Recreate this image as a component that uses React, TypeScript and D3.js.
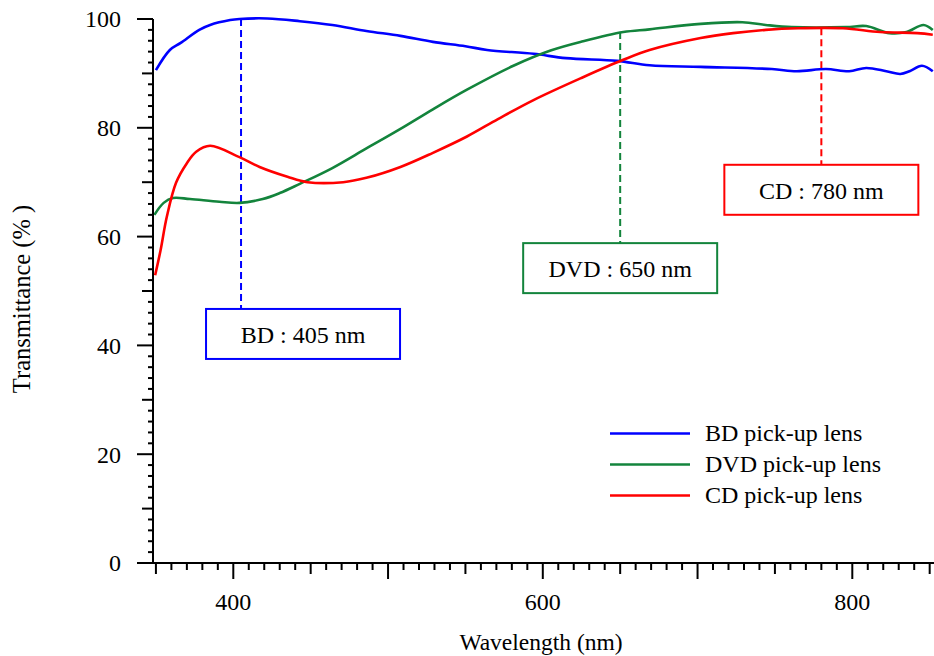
import React, { useEffect, useRef } from 'react';
import * as d3 from 'd3';

// wavelength (nm) / transmittance (%)
const bdWave = [350, 359, 366, 378, 385, 398, 404, 422, 443, 464, 486, 508, 529, 550, 564, 594, 615, 648, 669, 702, 748, 764, 783, 798, 809, 822, 831, 837, 845, 852];
const bdValue = [90.6, 94.3, 95.6, 98.0, 98.9, 99.8, 100, 100.1, 99.6, 98.9, 97.8, 96.9, 95.8, 95.0, 94.3, 93.6, 92.8, 92.3, 91.5, 91.2, 90.8, 90.4, 90.8, 90.4, 91.0, 90.4, 89.9, 90.4, 91.4, 90.4];

const dvdWave = [349, 355, 361, 372, 391, 404, 419, 430, 443, 464, 486, 508, 529, 551, 581, 605, 626, 652, 669, 702, 729, 744, 761, 796, 809, 824, 835, 846, 852];
const dvdValue = [64.0, 66.2, 67.1, 66.9, 66.4, 66.2, 66.9, 68.0, 69.7, 72.6, 76.2, 79.8, 83.4, 87.0, 91.4, 94.2, 95.9, 97.6, 98.1, 99.1, 99.4, 98.9, 98.5, 98.5, 98.7, 97.4, 97.6, 98.9, 98.0];

const cdWave = [349.5, 353, 357, 363, 370, 376, 385, 404, 417, 435, 448, 471, 486, 508, 529, 551, 571, 594, 626, 652, 669, 702, 723, 744, 765, 794, 818, 842, 852];
const cdValue = [52.9, 57.5, 63.6, 69.9, 73.5, 75.6, 76.7, 74.6, 72.8, 71.0, 70.0, 70.0, 70.8, 72.8, 75.4, 78.4, 81.6, 85.1, 89.3, 92.5, 94.3, 96.5, 97.4, 98.0, 98.3, 98.3, 97.6, 97.4, 97.1];

const seriesNames = ['BD pick-up lens', 'DVD pick-up lens', 'CD pick-up lens'];
const seriesColors = ['#0000ff', '#13843c', '#ff0000'];

// marked wavelengths: label, wavelength, curve value at the top of the dashed line, box top (in %)
const markLabels = ['BD : 405 nm', 'DVD : 650 nm', 'CD : 780 nm'];
const markWave = [405, 650, 780];
const markTop = [100, 97.6, 98.3];
const markBoxTop = [46.7, 58.8, 73.2];
const markBoxShift = [62, 0, 0];

const xTickLabels = [400, 600, 800];
const yTickLabels = [0, 20, 40, 60, 80, 100];

const W = 934;
const H = 656;
const FONT = '"Liberation Serif", "Times New Roman", serif';

const Chart = () => {
  const svgRef = useRef<SVGSVGElement>(null);

  useEffect(() => {
    const svg = d3.select(svgRef.current);
    svg.selectAll('*').remove();

    const x = d3.scaleLinear().domain([400, 800]).range([233.3, 852.3]);
    const y = d3.scaleLinear().domain([0, 100]).range([563, 19]);

    svg.append('rect').attr('width', W).attr('height', H).attr('fill', '#fff');

    // curves
    const allData = [
      bdWave.map((w, i) => [w, bdValue[i]]),
      dvdWave.map((w, i) => [w, dvdValue[i]]),
      cdWave.map((w, i) => [w, cdValue[i]]),
    ];
    const line = d3
      .line<number[]>()
      .x((d) => x(d[0]))
      .y((d) => y(d[1]))
      .curve(d3.curveCatmullRom.alpha(0.5));

    // dashed markers + boxes
    markLabels.forEach((label, i) => {
      const cx = x(markWave[i]);
      const boxTop = y(markBoxTop[i]);
      svg
        .append('line')
        .attr('x1', cx)
        .attr('x2', cx)
        .attr('y1', y(markTop[i]))
        .attr('y2', boxTop)
        .attr('stroke', seriesColors[i])
        .attr('stroke-width', 2)
        .attr('stroke-dasharray', '7 4');
      const bx = cx + markBoxShift[i] - 97;
      svg
        .append('rect')
        .attr('x', bx)
        .attr('y', boxTop)
        .attr('width', 194)
        .attr('height', 50)
        .attr('fill', '#fff')
        .attr('stroke', seriesColors[i])
        .attr('stroke-width', 2);
      svg
        .append('text')
        .attr('x', bx + 97)
        .attr('y', boxTop + 34)
        .attr('text-anchor', 'middle')
        .attr('font-family', FONT)
        .attr('font-size', 24)
        .text(label);
    });

    allData.forEach((d, i) => {
      svg
        .append('path')
        .datum(d)
        .attr('d', line)
        .attr('fill', 'none')
        .attr('stroke', seriesColors[i])
        .attr('stroke-width', 2.6);
    });

    // y axis
    const ax = svg.append('g').attr('stroke', '#000').attr('stroke-width', 2);
    ax.append('line').attr('x1', 153).attr('x2', 153).attr('y1', y(100)).attr('y2', y(0) + 1);
    d3.range(0, 101, 2).forEach((v) => {
      const len = v % 20 === 0 ? 16 : v % 10 === 0 ? 11 : 5;
      ax.append('line').attr('x1', 153 - len).attr('x2', 153).attr('y1', y(v)).attr('y2', y(v));
    });
    // x axis
    ax.append('line').attr('x1', 137).attr('x2', W).attr('y1', y(0)).attr('y2', y(0));
    d3.range(350, 861, 10).forEach((v) => {
      const len = v % 100 === 0 ? 16 : v % 50 === 0 ? 11 : 7;
      ax.append('line').attr('x1', x(v)).attr('x2', x(v)).attr('y1', y(0)).attr('y2', y(0) + len);
    });

    yTickLabels.forEach((v) => {
      svg
        .append('text')
        .attr('x', 121)
        .attr('y', y(v))
        .attr('dy', '0.35em')
        .attr('text-anchor', 'end')
        .attr('font-family', FONT)
        .attr('font-size', 24)
        .text(v);
    });
    xTickLabels.forEach((v) => {
      svg
        .append('text')
        .attr('x', x(v))
        .attr('y', 610)
        .attr('text-anchor', 'middle')
        .attr('font-family', FONT)
        .attr('font-size', 24)
        .text(v);
    });

    svg
      .append('text')
      .attr('x', 541)
      .attr('y', 650)
      .attr('text-anchor', 'middle')
      .attr('font-family', FONT)
      .attr('font-size', 23.5)
      .text('Wavelength (nm)');
    svg
      .append('text')
      .attr('transform', 'translate(30,299) rotate(-90)')
      .attr('text-anchor', 'middle')
      .attr('font-family', FONT)
      .attr('font-size', 24.5)
      .text('Transmittance (% )');

    // legend
    seriesNames.forEach((name, i) => {
      const ly = 433.5 + i * 31;
      svg
        .append('line')
        .attr('x1', 610)
        .attr('x2', 690)
        .attr('y1', ly)
        .attr('y2', ly)
        .attr('stroke', seriesColors[i])
        .attr('stroke-width', 2.6);
      svg
        .append('text')
        .attr('x', 705)
        .attr('y', ly + 7.5)
        .attr('font-family', FONT)
        .attr('font-size', 24)
        .text(name);
    });

    return () => {
      svg.selectAll('*').remove();
    };
  }, []);

  return (
    <svg
      ref={svgRef}
      width={W}
      height={H}
      style={{ position: 'absolute', left: 0, top: 0, display: 'block' }}
    />
  );
};

export default function App() {
  return <Chart />;
}
